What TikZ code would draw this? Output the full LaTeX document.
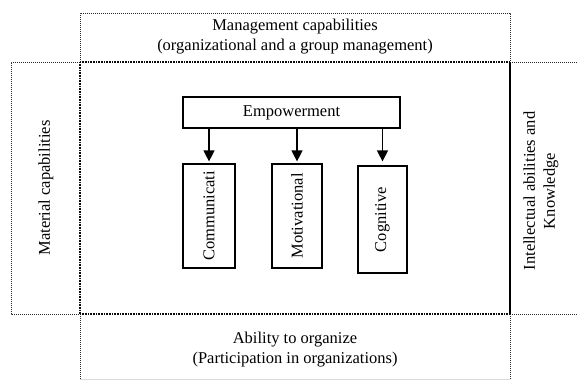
\documentclass[tikz,border=0pt]{standalone}
\usepackage{fontspec}
\setmainfont{Liberation Serif}
\usetikzlibrary{arrows.meta}
\begin{document}
\begin{tikzpicture}[x=1pt,y=-1pt,
  dotline/.style={line width=0.9pt,dash pattern=on 1pt off 1pt,black!85},
  darkdot/.style={line width=1.3pt,dash pattern=on 1pt off 0.6pt,black!95},
  solidbox/.style={draw=black,line width=1.2pt,inner sep=0pt},
  lbl/.style={font=\fontsize{16.5}{20}\selectfont,align=center,inner sep=0pt},
  arr/.style={line width=1.2pt,-{Triangle[width=11pt,length=11pt]}}]
\useasboundingbox (0,0) rectangle (577,380);
% regions
\coordinate (tl) at (80,13);
\coordinate (tr) at (510,13);
\coordinate (ml) at (80,62);
\coordinate (mr) at (510,62);
\coordinate (bl) at (80,314);
\coordinate (br) at (510,314);
% top box
\draw[dotline] (ml) -- (tl) -- (tr) -- (mr);
% left box
\draw[dotline] (ml) -- (11,62) -- (11,314) -- (bl);
% right region
\draw[dotline] (mr) -- (577,62);
\draw[dotline] (br) -- (577,314);
% bottom box
\draw[dotline] (bl) -- (80,379);
\draw[dotline] (br) -- (510,379);
\draw[black!15,line width=0.6pt] (80,379) -- (510,379);
% main box
\draw[darkdot] (ml) -- (mr);
\draw[darkdot] (bl) -- (br);
\draw[darkdot] (ml) -- (bl);
\draw[line width=1.3pt] (mr) -- (br);
% region texts
\node[lbl] (mgmt) at (295,37) {Management capabilities\\(organizational and a group management)};
\node[lbl,rotate=90] (mat) at (46,188) {Material capabilities};
\node[lbl,rotate=90] (intel) at (541,191) {Intellectual abilities and\\Knowledge};
\node[lbl] (org) at (295,350) {Ability to organize\\(Participation in organizations)};
% inner diagram
\node[solidbox,minimum width=217pt,minimum height=31pt] (emp) at (291.5,112.5) {};
\node[lbl] at (emp.center) {Empowerment};
\node[solidbox,minimum width=52pt,minimum height=104pt] (comm) at (209,216) {};
\node[lbl,rotate=90] at (comm.center) {Communicati};
\node[solidbox,minimum width=50pt,minimum height=104pt] (mot) at (297,216) {};
\node[lbl,rotate=90] at (mot.center) {Motivational};
\node[solidbox,minimum width=49pt,minimum height=107pt] (cog) at (382.5,219.5) {};
\node[lbl,rotate=90] at (cog.center) {Cognitive};
\draw[arr] (comm.north |- emp.south) -- ([yshift=2pt]comm.north);
\draw[arr] (mot.north |- emp.south) -- ([yshift=2pt]mot.north);
\draw[arr] (cog.north |- emp.south) -- ([yshift=4pt]cog.north);
\end{tikzpicture}
\end{document}
